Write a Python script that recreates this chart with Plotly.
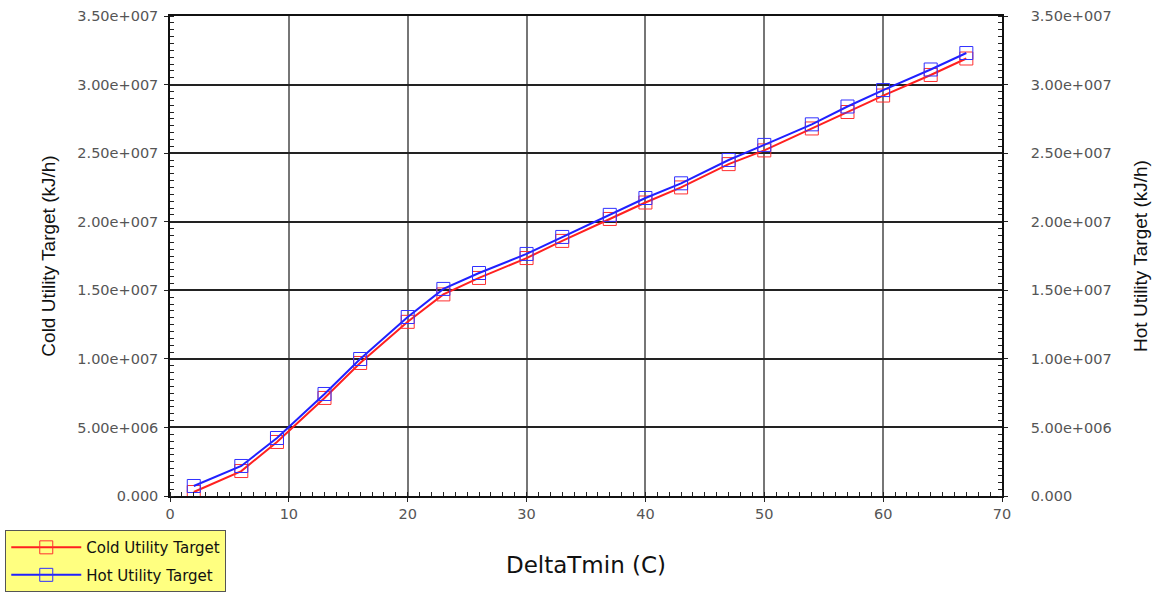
import plotly.graph_objects as go

delta_tmin = [2, 6, 9, 13, 16, 20, 23, 26, 30, 33, 37, 40, 43, 47, 50, 54, 57, 60, 64, 67]
cold_utility = [0.29e6, 1.82e6, 3.94e6, 7.15e6, 9.70e6, 1.27e7, 1.47e7, 1.59e7, 1.735e7, 1.86e7,
                2.02e7, 2.14e7, 2.25e7, 2.42e7, 2.52e7, 2.68e7, 2.80e7, 2.92e7, 3.07e7, 3.19e7]
hot_utility = [0.73e6, 2.19e6, 4.23e6, 7.44e6, 9.99e6, 1.305e7, 1.51e7, 1.626e7, 1.765e7, 1.889e7,
               2.05e7, 2.173e7, 2.28e7, 2.45e7, 2.56e7, 2.71e7, 2.84e7, 2.96e7, 3.11e7, 3.23e7]

y_tickvals = [0, 5e6, 1e7, 1.5e7, 2e7, 2.5e7, 3e7, 3.5e7]
y_ticktext = ["0.000", "5.00e+006", "1.00e+007", "1.50e+007", "2.00e+007",
              "2.50e+007", "3.00e+007", "3.50e+007"]
x_tickvals = [0, 10, 20, 30, 40, 50, 60, 70]

fig = go.Figure()
fig.add_trace(go.Scatter(
    x=delta_tmin, y=cold_utility, name="Cold Utility Target", mode="lines+markers",
    legendgroup="cold",
    line=dict(color="#ff2020", width=2),
    marker=dict(symbol="square-open", size=13, color="#ff3030", line=dict(width=1)),
))
fig.add_trace(go.Scatter(
    x=delta_tmin, y=hot_utility, name="Hot Utility Target", mode="lines+markers", yaxis="y2",
    legendgroup="hot",
    line=dict(color="#2020ff", width=2),
    marker=dict(symbol="square-open", size=13, color="#3030ff", line=dict(width=1)),
))

tickfont = dict(family="DejaVu Sans, sans-serif", size=14.5, color="#555555")
ytitlefont = dict(family="Liberation Sans, Arial, sans-serif", size=19, color="#111111")
xtitlefont = dict(family="DejaVu Sans, sans-serif", size=23, color="#111111")

fig.update_layout(
    width=1156, height=594,
    margin=dict(l=170, r=154, t=16, b=98, autoexpand=False),
    paper_bgcolor="white", plot_bgcolor="white",
    font=dict(family="DejaVu Sans, sans-serif"),
    xaxis=dict(
        range=[0, 70], tickvals=x_tickvals, ticks="outside", ticklen=4, tickcolor="#222",
        tickfont=tickfont, showgrid=True, gridcolor="#767676", gridwidth=2,
        showline=True, linecolor="#111111", linewidth=1.5, mirror=True, zeroline=False,
        automargin=False,
        minor=dict(dtick=1, ticks="inside", ticklen=4, tickcolor="#222", showgrid=False),
        title=dict(text="DeltaTmin (C)", font=xtitlefont, standoff=36),
    ),
    yaxis=dict(
        range=[0, 3.5e7], tickvals=y_tickvals, ticktext=y_ticktext, ticks="outside",
        ticklen=4, tickcolor="#222", tickfont=tickfont, ticklabelstandoff=3,
        showgrid=True, gridcolor="#222222", gridwidth=1.5,
        showline=True, linecolor="#111111", linewidth=1.5, zeroline=False,
        automargin=False,
        minor=dict(dtick=5e5, tick0=0, ticks="inside", ticklen=4, tickcolor="#222", showgrid=False),
        title=dict(text="Cold Utility Target (kJ/h)", font=ytitlefont, standoff=17),
    ),
    yaxis2=dict(
        range=[0, 3.5e7], tickvals=y_tickvals, ticktext=y_ticktext, ticks="outside",
        ticklen=4, tickcolor="#222", tickfont=tickfont, overlaying="y", side="right",
        ticklabelstandoff=20,
        showgrid=False, showline=True, linecolor="#111111", linewidth=1.5, zeroline=False,
        automargin=False,
        minor=dict(dtick=5e5, tick0=0, ticks="inside", ticklen=4, tickcolor="#222", showgrid=False),
        title=dict(text="Hot Utility Target (kJ/h)", font=ytitlefont, standoff=23),
    ),
    legend=dict(
        x=-0.198, y=-0.071, xanchor="left", yanchor="top",
        bgcolor="#ffff80", bordercolor="#555555", borderwidth=1,
        font=dict(family="DejaVu Sans, sans-serif", size=15, color="#111111"),
        itemwidth=70, tracegroupgap=5,
    ),
    showlegend=True,
)

fig.write_html(
    "out.html",
    config={"displayModeBar": False},
    post_script="document.body.style.margin='0';document.body.style.overflow='hidden';",
)
